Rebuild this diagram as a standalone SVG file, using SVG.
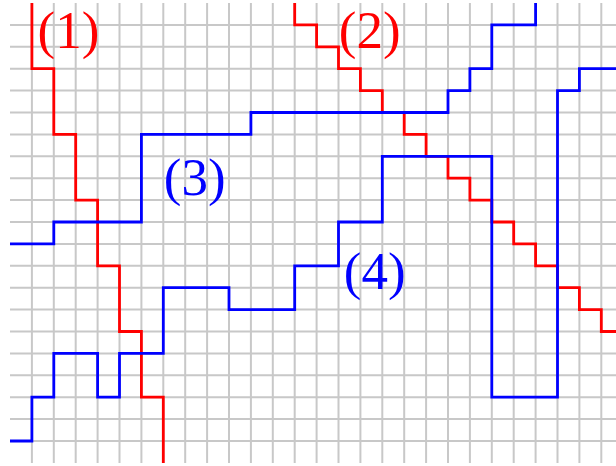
<svg xmlns="http://www.w3.org/2000/svg" width="616" height="466" viewBox="0 0 616 466">
  <style>
    .grid { fill: none; stroke: #c8c8c8; stroke-width: 2; }
    .p { fill: none; stroke-width: 2.8; stroke-linejoin: miter; stroke-linecap: butt; }
    .red { stroke: #ff0000; }
    .blue { stroke: #0000ff; }
    .lbl { font-family: "Liberation Serif", "DejaVu Serif", serif; font-size: 53px; text-anchor: middle; }
  </style>
  <rect width="616" height="466" fill="#ffffff"/>
  <g id="grid" class="grid">
    <path d="M31.9,3V462.9M53.8,3V462.9M75.7,3V462.9M97.6,3V462.9M119.5,3V462.9M141.4,3V462.9M163.3,3V462.9M185.2,3V462.9M207.1,3V462.9M229,3V462.9M250.9,3V462.9M272.8,3V462.9M294.7,3V462.9M316.6,3V462.9M338.5,3V462.9M360.4,3V462.9M382.3,3V462.9M404.2,3V462.9M426.1,3V462.9M448,3V462.9M469.9,3V462.9M491.8,3V462.9M513.7,3V462.9M535.6,3V462.9M557.5,3V462.9M579.4,3V462.9M601.3,3V462.9"/>
    <path d="M10,24.9H616M10,46.8H616M10,68.7H616M10,90.6H616M10,112.5H616M10,134.4H616M10,156.3H616M10,178.2H616M10,200.1H616M10,222H616M10,243.9H616M10,265.8H616M10,287.7H616M10,309.6H616M10,331.5H616M10,353.4H616M10,375.3H616M10,397.2H616M10,419.1H616M10,441H616"/>
  </g>
  <g id="connectors">
    <g id="path1">
      <path class="p red" d="M31.9,3V68.7H53.8V134.4H75.7V200.1H97.6V265.8H119.5V331.5H141.4V397.2H163.3V462.9"/>
    </g>
    <g id="path2">
      <path class="p red" d="M294.7,3V24.9H316.6V46.8H338.5V68.7H360.4V90.6H382.3V112.5H404.2V134.4H426.1V156.3H448V178.2H469.9V200.1H491.8V222H513.7V243.9H535.6V265.8H557.5V287.7H579.4V309.6H601.3V331.5H616"/>
    </g>
    <g id="path3">
      <path class="p blue" d="M10,243.9H53.8V222H141.4V134.4H250.9V112.5H448V90.6H469.9V68.7H491.8V24.9H535.6V3"/>
    </g>
    <g id="path4">
      <path class="p blue" d="M10,441H31.9V397.2H53.8V353.4H97.6V397.2H119.5V353.4H163.3V287.7H229V309.6H294.7V265.8H338.5V222H382.3V156.3H491.8V397.2H557.5V90.6H579.4V68.7H616"/>
    </g>
  </g>
  <g id="label1"><text class="lbl" x="68.5" y="48" fill="#ff0000">(1)</text></g>
  <g id="label2"><text class="lbl" x="369.7" y="48" fill="#ff0000">(2)</text></g>
  <g id="label3"><text class="lbl" x="194.7" y="195" fill="#0000ff">(3)</text></g>
  <g id="label4"><text class="lbl" x="374.7" y="289" fill="#0000ff">(4)</text></g>
</svg>
